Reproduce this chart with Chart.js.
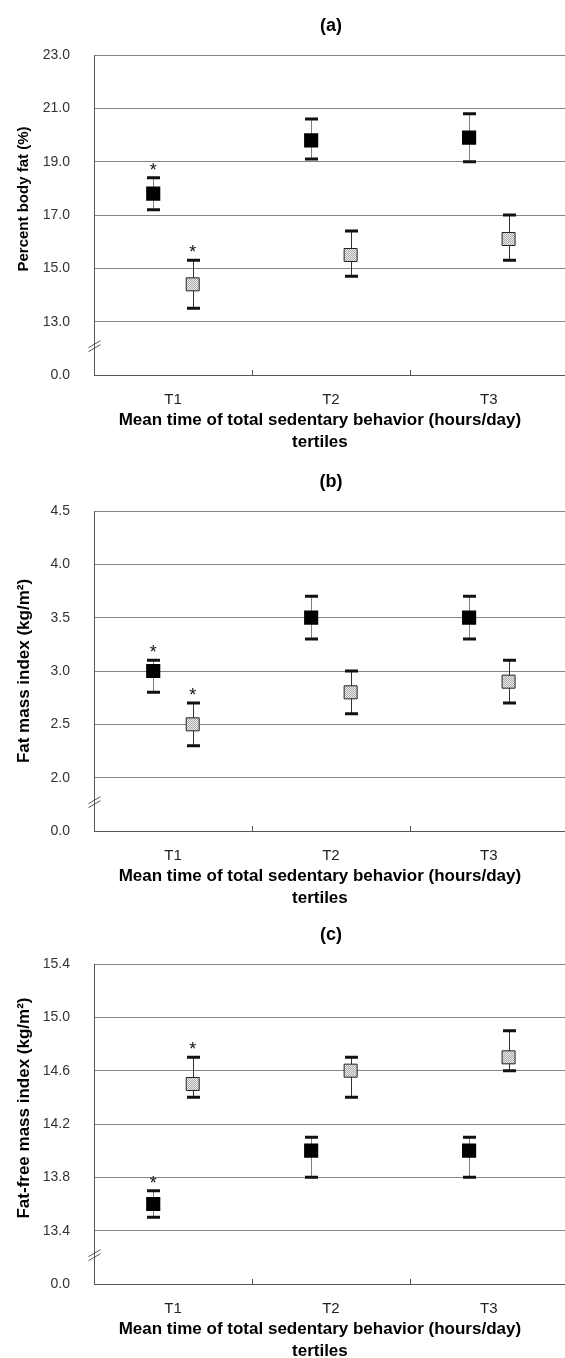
<!DOCTYPE html>
<html>
<head>
<meta charset="utf-8">
<script src="https://cdn.jsdelivr.net/npm/chart.js@4.4.0/dist/chart.umd.min.js"></script>
<style>
  html, body { margin: 0; padding: 0; background: #fff; overflow: hidden; }
  body { width: 565px; height: 1358px; position: relative; }
  .panel { position: absolute; left: 0; width: 578px; height: 456px; }
</style>
</head>
<body>
<div class="panel" style="top:0"><canvas id="chartA" width="578" height="456"></canvas></div>
<div class="panel" style="top:456px"><canvas id="chartB" width="578" height="456"></canvas></div>
<div class="panel" style="top:909px"><canvas id="chartC" width="578" height="456"></canvas></div>
<script>
const tertiles = ['T1', 'T2', 'T3'];

// (a) percent body fat
const fatPctBlack = [17.8, 19.8, 19.9];
const fatPctBlackLow = [17.2, 19.1, 19.0];
const fatPctBlackHigh = [18.4, 20.6, 20.8];
const fatPctGrey = [14.4, 15.5, 16.1];
const fatPctGreyLow = [13.5, 14.7, 15.3];
const fatPctGreyHigh = [15.3, 16.4, 17.0];
const fatPctTicks = [13, 15, 17, 19, 21, 23];

// (b) fat mass index
const fmiBlack = [3.0, 3.5, 3.5];
const fmiBlackLow = [2.8, 3.3, 3.3];
const fmiBlackHigh = [3.1, 3.7, 3.7];
const fmiGrey = [2.5, 2.8, 2.9];
const fmiGreyLow = [2.3, 2.6, 2.7];
const fmiGreyHigh = [2.7, 3.0, 3.1];
const fmiTicks = [2.0, 2.5, 3.0, 3.5, 4.0, 4.5];

// (c) fat-free mass index
const ffmiBlack = [13.6, 14.0, 14.0];
const ffmiBlackLow = [13.5, 13.8, 13.8];
const ffmiBlackHigh = [13.7, 14.1, 14.1];
const ffmiGrey = [14.5, 14.6, 14.7];
const ffmiGreyLow = [14.4, 14.4, 14.6];
const ffmiGreyHigh = [14.7, 14.7, 14.9];
const ffmiTicks = [13.4, 13.8, 14.2, 14.6, 15.0, 15.4];

// significance stars (T1 only)
const sigBlack = [true, false, false];
const sigGrey = [true, false, false];

const breakLabel = '0.0';
const xTitle = ['Mean time of total sedentary behavior (hours/day)', 'tertiles'];

const FONT = '"Liberation Sans", Arial, sans-serif';

// light dotted fill like the original grey squares
function dotPattern() {
  const c = document.createElement('canvas');
  c.width = 2; c.height = 2;
  const g = c.getContext('2d');
  g.fillStyle = '#ececec'; g.fillRect(0, 0, 2, 2);
  g.fillStyle = '#a9a9a9'; g.fillRect(0, 0, 1, 1); g.fillRect(1, 1, 1, 1);
  return g.createPattern(c, 'repeat');
}

// error bars under the markers, stars / break / texts on top
const decorations = {
  id: 'decorations',
  beforeDatasetsDraw(chart) {
    const ctx = chart.ctx;
    const xs = chart.scales.x, ys = chart.scales.y;
    chart.data.datasets.forEach(ds => {
      ds.data.forEach((pt, i) => {
        const x = Math.round(xs.getPixelForValue(pt.x)) + 0.5;
        const yl = ys.getPixelForValue(ds.errLow[i]);
        const yh = ys.getPixelForValue(ds.errHigh[i]);
        ctx.save();
        ctx.strokeStyle = ds.barColor;
        ctx.lineWidth = 1;
        ctx.beginPath();
        ctx.moveTo(x, yl); ctx.lineTo(x, yh);
        ctx.stroke();
        ctx.strokeStyle = '#111';
        ctx.lineWidth = 3;
        ctx.beginPath();
        ctx.moveTo(x - 6.5, yl); ctx.lineTo(x + 6.5, yl);
        ctx.moveTo(x - 6.5, yh); ctx.lineTo(x + 6.5, yh);
        ctx.stroke();
        ctx.restore();
      });
    });
  },
  afterDatasetsDraw(chart, args, opts) {
    const ctx = chart.ctx;
    const xs = chart.scales.x, ys = chart.scales.y;
    const area = chart.chartArea;
    ctx.save();
    // stars
    ctx.fillStyle = '#111';
    ctx.font = '18px ' + FONT;
    ctx.textAlign = 'center';
    ctx.textBaseline = 'alphabetic';
    chart.data.datasets.forEach(ds => {
      ds.data.forEach((pt, i) => {
        if (!ds.sig[i]) return;
        ctx.fillText('*', xs.getPixelForValue(pt.x), ys.getPixelForValue(ds.errHigh[i]) - 2);
      });
    });
    // inward category tick marks
    ctx.strokeStyle = '#555';
    ctx.lineWidth = 1;
    ctx.beginPath();
    for (let k = 1; k < tertiles.length; k++) {
      const x = Math.round(xs.getPixelForValue(k + 0.5)) + 0.5;
      ctx.moveTo(x, area.bottom); ctx.lineTo(x, area.bottom - 5);
    }
    // axis break marks
    const t = ys.ticks;
    const yb = ys.getPixelForValue(t[0].value + (t[1].value - t[0].value) * 0.55);
    const xb = area.left + 0.5;
    ctx.moveTo(xb - 6, yb + 2); ctx.lineTo(xb + 6, yb - 5);
    ctx.moveTo(xb - 6, yb + 6); ctx.lineTo(xb + 6, yb - 1);
    ctx.stroke();
    // panel title
    ctx.fillStyle = '#000';
    ctx.textBaseline = 'middle';
    ctx.font = 'bold 18px ' + FONT;
    ctx.fillText(opts.panel, xs.getPixelForValue(2), area.top - 29);
    // x axis title
    ctx.font = 'bold 17px ' + FONT;
    const cx = xs.getPixelForValue(2) - 11;
    ctx.fillText(xTitle[0], cx, area.bottom + 45);
    ctx.fillText(xTitle[1], cx, area.bottom + 67);
    // y axis title
    ctx.translate(24, (area.top + area.bottom) / 2 + opts.yShift);
    ctx.rotate(-Math.PI / 2);
    ctx.font = 'bold ' + opts.ySize + 'px ' + FONT;
    ctx.fillText(opts.yTitle, 0, 0);
    ctx.restore();
  }
};

function makeChart(id, panel, yTitle, ySize, yShift, ticks, black, blackLow, blackHigh, grey, greyLow, greyHigh) {
  const step = ticks[1] - ticks[0];
  const yMin = ticks[0] - step;
  const off = 0.125;
  new Chart(document.getElementById(id), {
    type: 'scatter',
    data: {
      datasets: [
        {
          data: black.map((v, i) => ({ x: i + 1 - off, y: v })),
          errLow: blackLow, errHigh: blackHigh, sig: sigBlack,
          barColor: '#808080',
          pointStyle: 'rect', pointRadius: 10,
          backgroundColor: '#000', borderColor: '#000', borderWidth: 0
        },
        {
          data: grey.map((v, i) => ({ x: i + 1 + off, y: v })),
          errLow: greyLow, errHigh: greyHigh, sig: sigGrey,
          barColor: '#333',
          pointStyle: 'rect', pointRadius: 9.2,
          backgroundColor: dotPattern(), borderColor: '#222', borderWidth: 1
        }
      ]
    },
    options: {
      responsive: false,
      animation: false,
      events: [],
      layout: { padding: { top: 55, right: 1, left: 0, bottom: 0 } },
      plugins: {
        legend: { display: false },
        tooltip: { enabled: false },
        decorations: { panel: panel, yTitle: yTitle, ySize: ySize, yShift: yShift }
      },
      scales: {
        x: {
          type: 'linear', min: 0.5, max: 3.5,
          afterBuildTicks: s => { s.ticks = tertiles.map((t, i) => ({ value: i + 1 })); },
          afterFit: s => { s.height = 81; },
          grid: { display: false },
          border: { display: true, color: '#555', width: 1 },
          ticks: {
            autoSkip: false, maxRotation: 0, padding: 8,
            color: '#222', font: { family: FONT, size: 15 },
            callback: (v, i) => tertiles[i]
          }
        },
        y: {
          type: 'linear', min: yMin, max: ticks[ticks.length - 1],
          afterBuildTicks: s => { s.ticks = [{ value: yMin }].concat(ticks.map(v => ({ value: v }))); },
          afterFit: s => { s.width = 94; },
          grid: { color: '#858585', lineWidth: 1, drawTicks: false },
          border: { display: true, color: '#555', width: 1 },
          ticks: {
            padding: 24,
            color: '#333', font: { family: FONT, size: 14 },
            callback: (v, i) => i === 0 ? breakLabel : v.toFixed(1)
          }
        }
      }
    },
    plugins: [decorations]
  });
}

makeChart('chartA', '(a)', 'Percent body fat (%)', 15, -16, fatPctTicks,
  fatPctBlack, fatPctBlackLow, fatPctBlackHigh, fatPctGrey, fatPctGreyLow, fatPctGreyHigh);
makeChart('chartB', '(b)', 'Fat mass index (kg/m\u00B2)', 17, 0, fmiTicks,
  fmiBlack, fmiBlackLow, fmiBlackHigh, fmiGrey, fmiGreyLow, fmiGreyHigh);
makeChart('chartC', '(c)', 'Fat-free mass index (kg/m\u00B2)', 17, -16, ffmiTicks,
  ffmiBlack, ffmiBlackLow, ffmiBlackHigh, ffmiGrey, ffmiGreyLow, ffmiGreyHigh);
</script>
</body>
</html>
